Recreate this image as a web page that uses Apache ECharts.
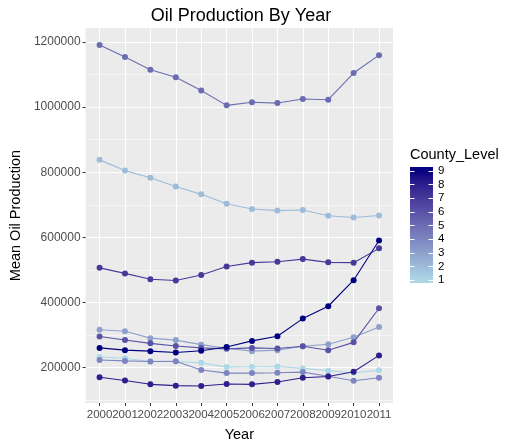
<!DOCTYPE html>
<html>
<head>
<meta charset="utf-8">
<script src="https://cdn.jsdelivr.net/npm/echarts@6/dist/echarts.min.js"></script>
<style>
  html, body { margin: 0; padding: 0; background: #fff; }
  #main { width: 524px; height: 447px; }
</style>
</head>
<body>
<div id="main"></div>
<script>
// 年份和各县级别的平均产油量
var years = [2000, 2001, 2002, 2003, 2004, 2005, 2006, 2007, 2008, 2009, 2010, 2011]
var levels = [1, 2, 3, 4, 5, 6, 7, 8, 9]
var level1 = [232000, 228000, 218000, 218000, 214000, 201000, 202000, 203000, 197000, 190000, 183500, 191000]
var level2 = [838000, 805000, 783000, 756000, 732000, 703000, 687000, 682000, 684000, 666000, 661000, 667000]
var level3 = [316000, 311000, 290000, 284000, 270000, 259000, 250000, 253000, 265000, 271000, 293000, 324000]
var level4 = [223000, 220000, 218000, 219000, 192000, 182500, 182500, 183500, 185600, 173000, 159000, 168000]
var level5 = [1191000, 1154000, 1115000, 1092000, 1051500, 1005600, 1015000, 1012600, 1025000, 1023000, 1105000, 1160000]
var level6 = [295000, 284500, 274000, 266000, 260000, 257000, 260000, 258000, 265000, 253000, 277000, 382000]
var level7 = [506000, 489000, 471000, 467000, 484000, 510000, 522000, 525000, 533000, 523000, 522000, 566000]
var level8 = [170000, 160000, 148000, 144000, 143000, 149000, 148000, 155000, 168000, 172000, 186500, 237000]
var level9 = [260000, 253000, 250000, 246000, 251000, 263000, 281500, 296000, 350000, 388000, 468000, 590000]
var levelValues = [level1, level2, level3, level4, level5, level6, level7, level8, level9]
var yTicks = [200000, 400000, 600000, 800000, 1000000, 1200000]
var yMinorTicks = [100000, 300000, 500000, 700000, 900000, 1100000]

// lightblue -> navy，在Lab空间插值（和ggplot一样）
function toLin(c) { c /= 255; return c <= 0.04045 ? c / 12.92 : Math.pow((c + 0.055) / 1.055, 2.4) }
function fromLin(c) { c = c <= 0.0031308 ? 12.92 * c : 1.055 * Math.pow(c, 1 / 2.4) - 0.055; return Math.max(0, Math.min(255, Math.round(c * 255))) }
function rgb2lab(rgb) {
  var r = toLin(rgb[0]), g = toLin(rgb[1]), b = toLin(rgb[2])
  var x = (0.4124 * r + 0.3576 * g + 0.1805 * b) / 0.95047
  var y = (0.2126 * r + 0.7152 * g + 0.0722 * b)
  var z = (0.0193 * r + 0.1192 * g + 0.9505 * b) / 1.08883
  function f(t) { return t > 0.008856 ? Math.cbrt(t) : 7.787 * t + 16 / 116 }
  var fx = f(x), fy = f(y), fz = f(z)
  return [116 * fy - 16, 500 * (fx - fy), 200 * (fy - fz)]
}
function lab2rgb(lab) {
  var fy = (lab[0] + 16) / 116, fx = fy + lab[1] / 500, fz = fy - lab[2] / 200
  function fi(t) { return t > 0.206893 ? t * t * t : (t - 16 / 116) / 7.787 }
  var x = fi(fx) * 0.95047, y = fi(fy), z = fi(fz) * 1.08883
  var r = 3.2406 * x - 1.5372 * y - 0.4986 * z
  var g = -0.9689 * x + 1.8758 * y + 0.0415 * z
  var b = 0.0557 * x - 0.2040 * y + 1.0570 * z
  return 'rgb(' + fromLin(r) + ',' + fromLin(g) + ',' + fromLin(b) + ')'
}
var lowLab = rgb2lab([173, 216, 230]), highLab = rgb2lab([0, 0, 128])
function levelColor(v) {
  var t = Math.max(0, Math.min(1, (v - 1) / 8))
  return lab2rgb([0, 1, 2].map(function (i) { return lowLab[i] + (highLab[i] - lowLab[i]) * t }))
}

var series = levels.map(function (lv, i) {
  return {
    name: String(lv),
    type: 'line',
    data: years.map(function (y, j) { return [y, levelValues[i][j]] }),
    symbol: 'circle',
    symbolSize: 6,
    showSymbol: true,
    lineStyle: { width: 1.1, color: levelColor(lv) },
    itemStyle: { color: levelColor(lv) },
    z: 2 + i,
    animation: false
  }
})

// 图例色条
var barX = 410, barTop = 167, barH = 116, barW = 23
var labTop = 170.7, labBottom = 280
function levelY(lv) { return labBottom - (lv - 1) * (labBottom - labTop) / 8 }
var stops = []
for (var k = 0; k <= 20; k++) {
  var yy = barTop + barH * k / 20
  var v = 1 + (labBottom - yy) / (labBottom - labTop) * 8
  stops.push({ offset: k / 20, color: levelColor(v) })
}
var legendEls = [
  { type: 'text', left: barX, top: 147, style: { text: 'County_Level', font: '14.5px "Liberation Sans", Arial, sans-serif', fill: '#000' } },
  { type: 'rect', shape: { x: barX, y: barTop, width: barW, height: barH },
    style: { fill: new echarts.graphic.LinearGradient(0, 0, 0, 1, stops) } }
]
levels.forEach(function (lv) {
  var y = Math.round(levelY(lv)) + 0.5
  legendEls.push({ type: 'line', shape: { x1: barX, y1: y, x2: barX + 4.5, y2: y }, style: { stroke: '#fff', lineWidth: 1 } })
  legendEls.push({ type: 'line', shape: { x1: barX + barW - 4.5, y1: y, x2: barX + barW, y2: y }, style: { stroke: '#fff', lineWidth: 1 } })
  legendEls.push({ type: 'text', x: barX + barW + 5, y: levelY(lv), style: { text: String(lv), font: '11.5px "Liberation Sans", Arial, sans-serif', fill: '#000', verticalAlign: 'middle' } })
})

var myChart = echarts.init(document.getElementById('main'), null, { renderer: 'canvas' })
var font = '"Liberation Sans", Arial, sans-serif'
var option = {
  backgroundColor: '#fff',
  animation: false,
  title: {
    text: 'Oil Production By Year',
    left: 236, top: 2, textAlign: 'center',
    textStyle: { fontFamily: font, fontSize: 18, fontWeight: 'normal', color: '#000' }
  },
  grid: { left: 79, right: 131, top: 28, bottom: 44, show: true, backgroundColor: '#ebebeb', borderWidth: 0 },
  xAxis: {
    type: 'value', min: 1999.45, max: 2011.55,
    name: 'Year', nameLocation: 'middle', nameGap: 24,
    nameTextStyle: { fontFamily: font, fontSize: 14.5, color: '#000' },
    axisLine: { show: false },
    axisTick: { show: true, length: 3, lineStyle: { color: '#333' }, customValues: years },
    axisLabel: {
      customValues: years, margin: 6, color: '#4d4d4d', fontFamily: font, fontSize: 11.5,
      showMinLabel: true, showMaxLabel: true, hideOverlap: false,
      formatter: function (v) { return String(v) }
    },
    splitLine: { show: true, lineStyle: { color: '#fff', width: 1.1 } }
  },
  yAxis: [{
    type: 'value', min: 90600, max: 1243400,
    name: 'Mean Oil Production', nameLocation: 'middle', nameGap: 53,
    nameTextStyle: { fontFamily: font, fontSize: 14.5, color: '#000' },
    axisLine: { show: false },
    axisTick: { show: true, length: 3, lineStyle: { color: '#333' }, customValues: yTicks },
    axisLabel: { customValues: yTicks, margin: 5, color: '#4d4d4d', fontFamily: font, fontSize: 12, formatter: function (v) { return String(v) } },
    splitLine: { show: true, lineStyle: { color: '#fff', width: 1.1 } },
    z: 1
  }, {
    type: 'value', min: 90600, max: 1243400, position: 'left',
    axisLine: { show: false }, axisLabel: { show: false },
    axisTick: { show: false, customValues: yMinorTicks },
    splitLine: { show: true, lineStyle: { color: '#fff', width: 0.55 } },
    z: 0
  }],
  graphic: legendEls,
  series: series
}
myChart.setOption(option)
</script>
</body>
</html>
